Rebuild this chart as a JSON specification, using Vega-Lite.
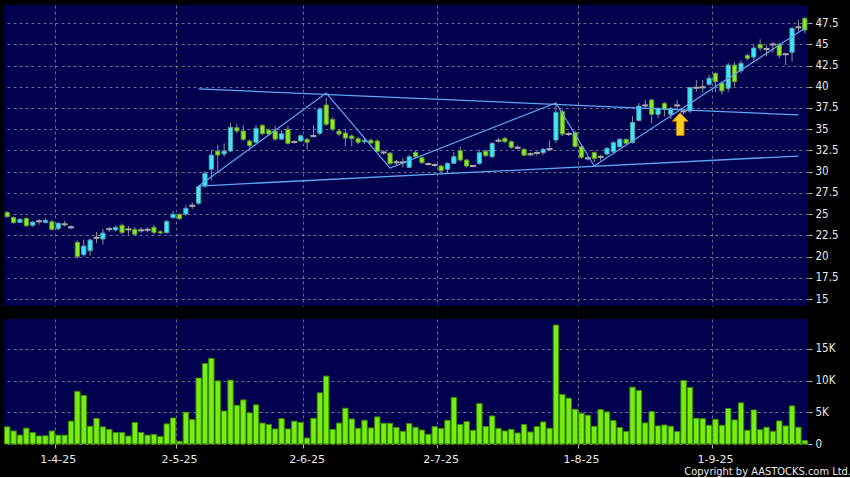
{
"$schema": "https://vega.github.io/schema/vega-lite/v6.json",
"background": "#000000",
"padding": {"left": 4, "top": 5, "right": 0, "bottom": 0},
"title": {"text": "Copyright by AASTOCKS.com Ltd.", "orient": "bottom", "anchor": "end", "frame": "bounds", "font": "DejaVu Sans Condensed, DejaVu Sans", "fontSize": 11, "fontWeight": "normal", "color": "#e8e8e8", "offset": 2, "dx": 13},
"data": {"values": [
{"d":"20-3-25","o":25.21,"h":25.35,"l":24.6,"c":24.69,"v":2700},
{"d":"21-3-25","o":24.62,"h":24.7,"l":23.9,"c":23.99,"v":2050},
{"d":"24-3-25","o":24.03,"h":24.5,"l":23.95,"c":24.39,"v":1400},
{"d":"25-3-25","o":24.5,"h":24.6,"l":23.5,"c":23.63,"v":2500},
{"d":"26-3-25","o":23.68,"h":24.15,"l":23.5,"c":24.07,"v":1800},
{"d":"27-3-25","o":24.15,"h":24.45,"l":23.75,"c":24.15,"v":1260},
{"d":"28-3-25","o":24.03,"h":24.5,"l":23.9,"c":24.27,"v":1300},
{"d":"31-3-25","o":24.1,"h":24.35,"l":23.05,"c":23.2,"v":2050},
{"d":"1-4-25","o":23.28,"h":24.05,"l":23.1,"c":23.92,"v":1400},
{"d":"2-4-25","o":23.8,"h":24.2,"l":23.55,"c":23.8,"v":1400},
{"d":"3-4-25","o":23.45,"h":23.7,"l":23.2,"c":23.45,"v":3600},
{"d":"7-4-25","o":21.68,"h":21.9,"l":19.75,"c":19.98,"v":8300},
{"d":"8-4-25","o":20.22,"h":22.0,"l":20.0,"c":21.24,"v":7650},
{"d":"9-4-25","o":20.69,"h":22.1,"l":20.1,"c":21.95,"v":2800},
{"d":"10-4-25","o":22.22,"h":22.9,"l":21.6,"c":22.22,"v":4050},
{"d":"11-4-25","o":22.07,"h":23.25,"l":21.4,"c":22.77,"v":2700},
{"d":"14-4-25","o":23.24,"h":23.5,"l":22.9,"c":23.24,"v":2300},
{"d":"15-4-25","o":23.13,"h":23.65,"l":22.95,"c":23.45,"v":1800},
{"d":"16-4-25","o":23.68,"h":23.9,"l":22.65,"c":22.81,"v":1800},
{"d":"17-4-25","o":23.2,"h":23.6,"l":22.55,"c":23.2,"v":1260},
{"d":"22-4-25","o":23.2,"h":23.5,"l":22.5,"c":22.62,"v":3400},
{"d":"23-4-25","o":23.09,"h":23.45,"l":22.8,"c":23.09,"v":1800},
{"d":"24-4-25","o":23.16,"h":23.45,"l":22.85,"c":23.16,"v":1400},
{"d":"25-4-25","o":23.45,"h":23.75,"l":22.6,"c":22.86,"v":1530},
{"d":"28-4-25","o":22.93,"h":23.1,"l":22.6,"c":22.78,"v":1170},
{"d":"29-4-25","o":22.81,"h":24.3,"l":22.7,"c":24.15,"v":3170},
{"d":"30-4-25","o":24.58,"h":25.4,"l":24.5,"c":24.98,"v":4100},
{"d":"2-5-25","o":24.98,"h":25.1,"l":24.3,"c":24.46,"v":430},
{"d":"6-5-25","o":25.01,"h":26.0,"l":24.75,"c":25.68,"v":5000},
{"d":"7-5-25","o":25.99,"h":26.4,"l":25.6,"c":25.99,"v":3850},
{"d":"8-5-25","o":26.27,"h":28.4,"l":26.1,"c":28.23,"v":10400,"u":39.74,"w":28.31,"z":28.31},
{"d":"9-5-25","o":28.31,"h":30.1,"l":28.1,"c":29.81,"v":12700},
{"d":"12-5-25","o":30.28,"h":32.55,"l":29.0,"c":31.96,"v":13500},
{"d":"13-5-25","o":32.43,"h":33.15,"l":30.1,"c":31.96,"v":9950},
{"d":"14-5-25","o":32.08,"h":33.35,"l":31.75,"c":32.43,"v":5200},
{"d":"15-5-25","o":32.43,"h":35.77,"l":32.3,"c":35.22,"v":10060},
{"d":"16-5-25","o":35.18,"h":35.6,"l":34.5,"c":34.79,"v":6100},
{"d":"19-5-25","o":34.79,"h":35.5,"l":33.6,"c":33.81,"v":6950},
{"d":"20-5-25","o":33.61,"h":33.8,"l":32.7,"c":33.06,"v":4900},
{"d":"21-5-25","o":33.46,"h":35.5,"l":33.3,"c":35.11,"v":6170},
{"d":"22-5-25","o":35.46,"h":35.6,"l":34.3,"c":34.47,"v":3300},
{"d":"23-5-25","o":34.9,"h":35.1,"l":34.2,"c":34.43,"v":3060},
{"d":"26-5-25","o":34.79,"h":35.4,"l":33.6,"c":33.84,"v":2370},
{"d":"27-5-25","o":33.84,"h":34.9,"l":33.7,"c":34.47,"v":4000},
{"d":"28-5-25","o":34.99,"h":35.4,"l":33.2,"c":33.34,"v":2370},
{"d":"29-5-25","o":33.5,"h":33.7,"l":33.3,"c":33.5,"v":3600},
{"d":"30-5-25","o":33.61,"h":34.4,"l":33.5,"c":34.23,"v":3400},
{"d":"2-6-25","o":33.81,"h":34.0,"l":32.6,"c":33.46,"v":950},
{"d":"3-6-25","o":34.2,"h":35.5,"l":34.0,"c":34.2,"v":4050},
{"d":"4-6-25","o":34.52,"h":37.6,"l":34.3,"c":37.38,"v":8060},
{"d":"5-6-25","o":37.85,"h":38.7,"l":35.4,"c":35.58,"v":10700,"z":39.26},
{"d":"6-6-25","o":36.17,"h":36.4,"l":34.8,"c":34.99,"v":2300},
{"d":"9-6-25","o":34.79,"h":35.0,"l":34.2,"c":34.43,"v":3300},
{"d":"10-6-25","o":34.55,"h":34.9,"l":33.0,"c":33.95,"v":5640},
{"d":"11-6-25","o":34.2,"h":34.4,"l":33.0,"c":33.9,"v":3950},
{"d":"12-6-25","o":33.88,"h":34.1,"l":33.2,"c":33.45,"v":2480},
{"d":"13-6-25","o":33.5,"h":33.9,"l":33.3,"c":33.7,"v":3740},
{"d":"16-6-25","o":33.7,"h":33.9,"l":33.2,"c":33.38,"v":2530},
{"d":"17-6-25","o":33.61,"h":33.8,"l":32.3,"c":32.4,"v":4270},
{"d":"18-6-25","o":32.26,"h":32.5,"l":32.0,"c":32.26,"v":3270},
{"d":"19-6-25","o":32.18,"h":32.3,"l":30.8,"c":30.95,"v":3270,"z":30.43},
{"d":"20-6-25","o":31.1,"h":31.4,"l":30.7,"c":31.1,"v":2600},
{"d":"23-6-25","o":31.1,"h":31.6,"l":30.5,"c":31.1,"v":2000},
{"d":"24-6-25","o":30.51,"h":32.0,"l":30.4,"c":31.76,"v":3220},
{"d":"25-6-25","o":32.28,"h":32.5,"l":31.6,"c":31.76,"v":2640},
{"d":"26-6-25","o":31.64,"h":31.8,"l":30.9,"c":31.05,"v":2200},
{"d":"27-6-25","o":30.9,"h":31.1,"l":30.7,"c":30.9,"v":1530},
{"d":"30-6-25","o":30.78,"h":31.0,"l":30.6,"c":30.78,"v":2750},
{"d":"2-7-25","o":30.67,"h":30.8,"l":29.9,"c":30.11,"v":2430},
{"d":"3-7-25","o":30.28,"h":31.1,"l":29.9,"c":30.98,"v":3740},
{"d":"4-7-25","o":30.98,"h":32.3,"l":30.9,"c":31.76,"v":7330},
{"d":"7-7-25","o":32.47,"h":32.95,"l":31.2,"c":31.37,"v":3060},
{"d":"8-7-25","o":31.37,"h":31.5,"l":30.5,"c":30.67,"v":3540},
{"d":"9-7-25","o":30.67,"h":30.8,"l":30.5,"c":30.67,"v":2160},
{"d":"10-7-25","o":30.98,"h":32.6,"l":30.8,"c":32.23,"v":6380},
{"d":"11-7-25","o":32.43,"h":32.6,"l":31.7,"c":31.88,"v":2750},
{"d":"14-7-25","o":31.76,"h":33.5,"l":31.6,"c":33.34,"v":4420},
{"d":"15-7-25","o":33.65,"h":34.0,"l":33.4,"c":33.65,"v":2480},
{"d":"16-7-25","o":33.93,"h":34.1,"l":33.4,"c":33.53,"v":2050},
{"d":"17-7-25","o":33.53,"h":33.7,"l":32.7,"c":32.87,"v":2320},
{"d":"18-7-25","o":32.82,"h":33.1,"l":32.6,"c":32.82,"v":1740},
{"d":"21-7-25","o":32.63,"h":32.8,"l":31.8,"c":31.94,"v":3060},
{"d":"22-7-25","o":32.05,"h":32.3,"l":31.8,"c":32.05,"v":1900},
{"d":"23-7-25","o":32.2,"h":32.4,"l":31.9,"c":32.2,"v":2750},
{"d":"24-7-25","o":32.23,"h":32.8,"l":32.0,"c":32.63,"v":3480},
{"d":"25-7-25","o":32.65,"h":33.7,"l":32.4,"c":32.65,"v":2480},
{"d":"28-7-25","o":33.73,"h":38.0,"l":33.35,"c":36.99,"v":18750,"z":38.1},
{"d":"29-7-25","o":37.09,"h":37.3,"l":34.2,"c":34.43,"v":7800},
{"d":"30-7-25","o":34.43,"h":34.7,"l":34.2,"c":34.43,"v":7220},
{"d":"31-7-25","o":34.61,"h":34.8,"l":32.8,"c":32.96,"v":5480},
{"d":"1-8-25","o":32.94,"h":33.1,"l":31.5,"c":31.69,"v":4850},
{"d":"4-8-25","o":31.57,"h":31.8,"l":31.3,"c":31.57,"v":4530},
{"d":"5-8-25","o":32.26,"h":32.4,"l":31.15,"c":31.57,"v":2800,"z":30.67},
{"d":"6-8-25","o":31.75,"h":32.0,"l":31.3,"c":31.75,"v":5430},
{"d":"7-8-25","o":32.08,"h":32.9,"l":31.9,"c":32.75,"v":5060},
{"d":"8-8-25","o":32.35,"h":33.6,"l":32.2,"c":33.41,"v":3690},
{"d":"11-8-25","o":32.94,"h":34.0,"l":32.8,"c":33.81,"v":2590},
{"d":"12-8-25","o":33.81,"h":33.9,"l":33.2,"c":33.34,"v":1960},
{"d":"13-8-25","o":33.43,"h":36.55,"l":33.3,"c":35.79,"v":8960},
{"d":"14-8-25","o":36.03,"h":38.1,"l":35.9,"c":37.73,"v":8430},
{"d":"15-8-25","o":37.8,"h":38.45,"l":37.5,"c":37.8,"v":3320},
{"d":"18-8-25","o":38.44,"h":38.6,"l":35.7,"c":36.75,"v":5110},
{"d":"19-8-25","o":36.75,"h":37.6,"l":36.3,"c":37.46,"v":2850},
{"d":"20-8-25","o":38.05,"h":38.2,"l":36.5,"c":37.34,"v":3000},
{"d":"21-8-25","o":36.75,"h":37.6,"l":36.2,"c":37.46,"v":2800},
{"d":"22-8-25","o":37.8,"h":38.45,"l":37.3,"c":37.8,"v":1960,"a":35.6},
{"d":"25-8-25","o":37.1,"h":37.4,"l":36.8,"c":37.1,"v":10000},
{"d":"26-8-25","o":37.14,"h":40.0,"l":36.9,"c":39.91,"v":8900},
{"d":"27-8-25","o":39.89,"h":40.8,"l":39.4,"c":39.89,"v":4060},
{"d":"28-8-25","o":39.93,"h":40.8,"l":39.3,"c":39.93,"v":4000},
{"d":"29-8-25","o":40.29,"h":41.4,"l":40.1,"c":41.0,"v":2950},
{"d":"1-9-25","o":41.58,"h":41.7,"l":39.4,"c":40.6,"v":3900},
{"d":"2-9-25","o":40.44,"h":40.6,"l":39.1,"c":39.5,"v":2950},
{"d":"3-9-25","o":39.82,"h":42.8,"l":39.4,"c":42.56,"v":5590},
{"d":"4-9-25","o":42.56,"h":42.9,"l":40.0,"c":40.6,"v":3800},
{"d":"5-9-25","o":41.88,"h":43.1,"l":41.6,"c":42.76,"v":6480},
{"d":"8-9-25","o":43.7,"h":43.9,"l":43.1,"c":43.35,"v":2160},
{"d":"9-9-25","o":43.5,"h":44.9,"l":43.1,"c":44.56,"v":5370},
{"d":"10-9-25","o":45.0,"h":45.6,"l":44.2,"c":44.56,"v":2270},
{"d":"11-9-25","o":44.45,"h":44.9,"l":43.6,"c":44.45,"v":2640},
{"d":"12-9-25","o":44.98,"h":45.3,"l":44.0,"c":44.98,"v":2000},
{"d":"15-9-25","o":45.0,"h":45.2,"l":43.4,"c":43.7,"v":3630},
{"d":"16-9-25","o":43.83,"h":44.0,"l":42.55,"c":43.83,"v":2850},
{"d":"17-9-25","o":44.06,"h":47.0,"l":42.95,"c":46.88,"v":6000},
{"d":"18-9-25","o":47.0,"h":47.85,"l":46.5,"c":47.0,"v":2640,"u":36.69,"w":31.84},
{"d":"19-9-25","o":48.06,"h":48.2,"l":46.3,"c":46.68,"v":540,"z":46.88}
]},
"spacing": 13,
"vconcat": [
{
 "width": 804, "height": 301,
 "encoding": {"x": {"field": "d", "type": "ordinal", "sort": null, "scale": {"paddingInner": 0, "paddingOuter": 0}, "axis": {"values": ["1-4-25","2-5-25","2-6-25","2-7-25","1-8-25","1-9-25"], "bandPosition": 0, "labels": false, "ticks": false, "domain": false, "grid": true, "title": null}}},
 "layer": [
  {"mark": {"type": "rule", "color": "#8e8e8e", "strokeWidth": 1},
   "encoding": {"y": {"field": "l", "type": "quantitative", "title": null, "scale": {"domain": [14.18, 49.63], "nice": false, "zero": false}, "axis": {"orient": "right", "values": [15,17.5,20,22.5,25,27.5,30,32.5,35,37.5,40,42.5,45,47.5], "format": ".1~f", "labelOverlap": false, "grid": true, "title": null}}, "y2": {"field": "h"}}},
  {"mark": {"type": "bar", "width": {"band": 0.66}, "strokeWidth": 1},
   "encoding": {"y": {"field": "o", "type": "quantitative", "title": null, "axis": {"orient": "right", "values": [15,17.5,20,22.5,25,27.5,30,32.5,35,37.5,40,42.5,45,47.5], "format": ".1~f", "labelOverlap": false, "grid": true, "title": null}}, "y2": {"field": "c"},
    "fill": {"condition": [{"test": "datum.c > datum.o", "value": "#33eeff"}, {"test": "datum.c < datum.o", "value": "#88ee22"}], "value": "#a0a0a0"},
    "stroke": {"condition": [{"test": "datum.c > datum.o", "value": "#5a9aaa"}, {"test": "datum.c < datum.o", "value": "#5f9a30"}], "value": "#a0a0a0"}}},
  {"mark": {"type": "tick", "thickness": 2, "size": 6, "color": "#a8a8a8"},
   "encoding": {"y": {"field": "c", "type": "quantitative", "title": null, "axis": {"orient": "right", "values": [15,17.5,20,22.5,25,27.5,30,32.5,35,37.5,40,42.5,45,47.5], "format": ".1~f", "labelOverlap": false, "grid": true, "title": null}}, "opacity": {"condition": {"test": "datum.o == datum.c", "value": 1}, "value": 0}}},
  {"mark": {"type": "line", "color": "#5ea8ee", "strokeWidth": 1.3, "invalid": "filter"},
   "encoding": {"y": {"field": "u", "type": "quantitative", "title": null, "axis": {"orient": "right", "values": [15,17.5,20,22.5,25,27.5,30,32.5,35,37.5,40,42.5,45,47.5], "format": ".1~f", "labelOverlap": false, "grid": true, "title": null}}}},
  {"mark": {"type": "line", "color": "#5ea8ee", "strokeWidth": 1.3, "invalid": "filter"},
   "encoding": {"y": {"field": "w", "type": "quantitative", "title": null, "axis": {"orient": "right", "values": [15,17.5,20,22.5,25,27.5,30,32.5,35,37.5,40,42.5,45,47.5], "format": ".1~f", "labelOverlap": false, "grid": true, "title": null}}}},
  {"mark": {"type": "line", "color": "#5ea8ee", "strokeWidth": 1.2, "invalid": "filter"},
   "encoding": {"y": {"field": "z", "type": "quantitative", "title": null, "axis": {"orient": "right", "values": [15,17.5,20,22.5,25,27.5,30,32.5,35,37.5,40,42.5,45,47.5], "format": ".1~f", "labelOverlap": false, "grid": true, "title": null}}}},
  {"mark": {"type": "point", "shape": "M0,-1 L0.7,-0.25 L0.34,-0.25 L0.34,1 L-0.34,1 L-0.34,-0.25 L-0.7,-0.25 Z", "size": 520, "filled": true, "fill": "#ffcc22", "stroke": "#b07000", "strokeWidth": 1, "opacity": 1, "xOffset": 3, "invalid": "filter"},
   "encoding": {"y": {"field": "a", "type": "quantitative", "title": null, "axis": {"orient": "right", "values": [15,17.5,20,22.5,25,27.5,30,32.5,35,37.5,40,42.5,45,47.5], "format": ".1~f", "labelOverlap": false, "grid": true, "title": null}}}}
 ]
},
{
 "width": 804, "height": 125,
 "mark": {"type": "bar", "width": {"band": 0.84}, "fill": "#77ee11", "stroke": "#3d8a00", "strokeWidth": 1},
 "encoding": {
  "x": {"field": "d", "type": "ordinal", "sort": null, "scale": {"paddingInner": 0, "paddingOuter": 0}, "axis": {"values": ["1-4-25","2-5-25","2-6-25","2-7-25","1-8-25","1-9-25"], "bandPosition": 0, "labelAngle": 0, "labelOverlap": false, "labelFont": "DejaVu Sans", "labelFontSize": 11, "labelPadding": 5, "domain": false, "grid": true, "title": null}},
  "y": {"field": "v", "type": "quantitative", "title": null, "scale": {"domain": [0, 19700], "nice": false}, "axis": {"orient": "right", "values": [0, 5000, 10000, 15000], "labelOverlap": false, "labelExpr": "datum.value == 0 ? '0' : (datum.value / 1000) + 'K'", "grid": true, "title": null}}
 }
}
],
"config": {
 "view": {"fill": "#00004f", "stroke": null},
 "axis": {"labelColor": "#e8e8e8", "labelFont": "DejaVu Sans Condensed, DejaVu Sans", "labelFontSize": 11.5, "tickColor": "#b0b0b0", "tickSize": 4, "domain": false, "gridColor": "#6a6a8a", "gridDash": [3, 3], "gridWidth": 1, "labelPadding": 3}
}
}
